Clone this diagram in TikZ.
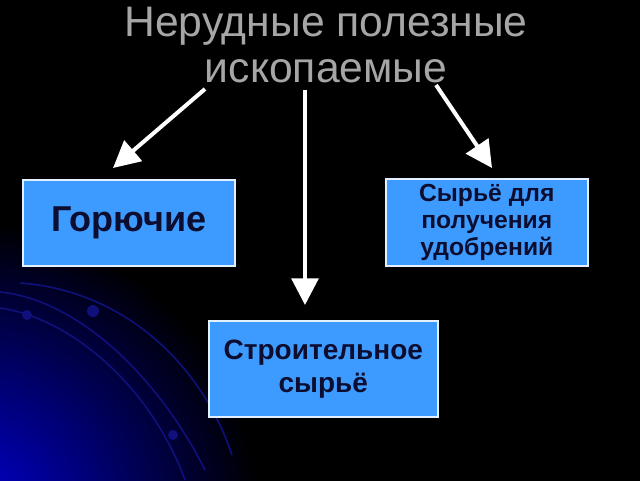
\documentclass[tikz,border=0pt]{standalone}
\usepackage{fontspec}
\setmainfont{Liberation Sans}
\usetikzlibrary{arrows.meta,shadings}
\definecolor{boxblue}{HTML}{3D9BFF}
\definecolor{boxtext}{HTML}{0D0D30}
\definecolor{titlegray}{HTML}{A6A6A6}
\definecolor{arcblue}{HTML}{10107A}
\tikzset{
  box/.style={draw=white!85!boxblue, line width=1.2pt, fill=boxblue, text=boxtext,
    font=\bfseries, align=center, inner sep=0pt, anchor=north west},
  arr/.style={draw=white, line width=3pt, -{Triangle[length=20pt,width=20pt]}},
  arcline/.style={draw=arcblue, line width=1.2pt},
}
\begin{document}
\begin{tikzpicture}[x=0.75pt,y=-0.75pt]
\useasboundingbox (0,0) rectangle (640,480);
\fill[black] (-10,-10) rectangle (650,490);
% blue glow bottom-left
\begin{scope}
\clip (-10,-10) rectangle (650,490);
\shade[inner color=blue!85!black, outer color=black] (-40,520) circle (300);
\end{scope}
\draw[arcline] (0,292) .. controls (80,300) and (160,380) .. (205,470);
\draw[arcline] (0,308) .. controls (70,318) and (150,385) .. (185,480);
\draw[arcline] (20,283) .. controls (120,290) and (200,360) .. (232,455);
\fill[arcblue] (27,315) circle (5);
\fill[arcblue] (93,311) circle (6);
\fill[arcblue] (173,435) circle (5);
% title
\node[text=titlegray, font=\fontsize{32}{35}\selectfont, align=center] (title) at (326,45) {Нерудные полезные\\ископаемые};
% boxes
\node[box, minimum width=212*0.75pt, minimum height=86*0.75pt, font=\bfseries\fontsize{27}{30}\selectfont] (gor) at (22,179) {Горючие};
\node[box, minimum width=229*0.75pt, minimum height=96*0.75pt, font=\bfseries\fontsize{21}{25}\selectfont] (str) at (208,320) {Строительное\\сырьё};
\node[box, minimum width=202*0.75pt, minimum height=87*0.75pt, font=\bfseries\fontsize{18.5}{20.5}\selectfont] (udo) at (385,178) {Сырьё для\\получения\\удобрений};
% arrows
\coordinate (s1) at (205,89);
\coordinate (e1) at (113,168);
\coordinate (s2) at (305,90);
\coordinate (e2) at (305,305);
\coordinate (s3) at (436,85);
\coordinate (e3) at (492,168);
\draw[arr] (s1) -- (e1);
\draw[arr] (s2) -- (e2);
\draw[arr] (s3) -- (e3);
\end{tikzpicture}
\end{document}
